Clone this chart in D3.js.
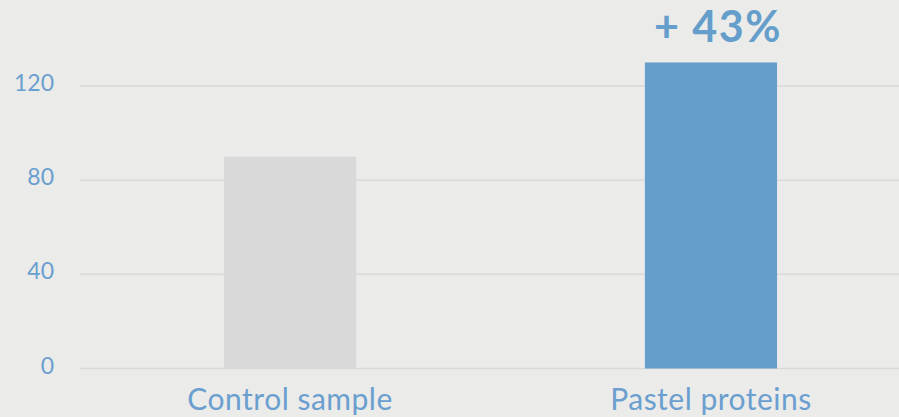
<!DOCTYPE html>
<html>
<head>
<meta charset="utf-8">
<script src="https://cdn.jsdelivr.net/npm/d3@7"></script>
<style>
  html, body { margin: 0; padding: 0; background: #ebebea; }
  svg { display: block; }
</style>
</head>
<body>
<div id="chart"></div>
<script>
const categories = ['Control sample', 'Pastel proteins']
const values = [90, 130]
const barColors = ['#d9d9d9', '#659dcb']
const yTicks = [0, 40, 80, 120]
const annotation = '+ 43%'

const width = 899
const height = 417
const left = 80

const svg = d3
  .select('#chart')
  .append('svg')
  .attr('width', width)
  .attr('height', height)

svg
  .append('rect')
  .attr('width', width)
  .attr('height', height)
  .attr('fill', '#ebebea')

const xPositionScale = d3
  .scaleBand()
  .domain(categories)
  .range([left, 921])
  .paddingInner(0.686)
  .paddingOuter(0.342)

const yPositionScale = d3.scaleLinear().domain([0, 120]).range([368.5, 86])

// gridlines
svg
  .selectAll('.grid')
  .data(yTicks)
  .enter()
  .append('line')
  .attr('class', 'grid')
  .attr('x1', left)
  .attr('x2', width)
  .attr('y1', d => yPositionScale(d))
  .attr('y2', d => yPositionScale(d))
  .attr('stroke', '#d9d9d8')
  .attr('stroke-width', 1.5)

// y labels, sit a little above their line
svg
  .selectAll('.ylabel')
  .data(yTicks)
  .enter()
  .append('text')
  .attr('class', 'ylabel')
  .attr('x', 54)
  .attr('y', d => yPositionScale(d) - 3)
  .attr('dy', '0.35em')
  .attr('text-anchor', 'end')
  .attr('font-family', 'Lato, sans-serif')
  .attr('font-size', 23)
  .attr('fill', '#6a9fcf')
  .text(d => d)

// bars
svg
  .selectAll('.bar')
  .data(values)
  .enter()
  .append('rect')
  .attr('class', 'bar')
  .attr('x', (d, i) => xPositionScale(categories[i]))
  .attr('width', xPositionScale.bandwidth())
  .attr('y', d => yPositionScale(d))
  .attr('height', d => yPositionScale(0) - yPositionScale(d))
  .attr('fill', (d, i) => barColors[i])

// category labels
svg
  .selectAll('.xlabel')
  .data(categories)
  .enter()
  .append('text')
  .attr('class', 'xlabel')
  .attr('x', d => xPositionScale(d) + xPositionScale.bandwidth() / 2)
  .attr('y', 410)
  .attr('text-anchor', 'middle')
  .attr('font-family', 'Lato, sans-serif')
  .attr('font-size', 30)
  .attr('letter-spacing', 0.5)
  .attr('fill', '#6a9fcf')
  .text(d => d)

// annotation above the blue bar
svg
  .append('text')
  .attr('x', xPositionScale(categories[1]) + xPositionScale.bandwidth() / 2 + 7)
  .attr('y', 42)
  .attr('text-anchor', 'middle')
  .attr('font-family', 'Lato, sans-serif')
  .attr('font-weight', 'bold')
  .attr('font-size', 43)
  .attr('letter-spacing', 1.5)
  .attr('fill', '#659dcb')
  .text(annotation)
</script>
</body>
</html>
